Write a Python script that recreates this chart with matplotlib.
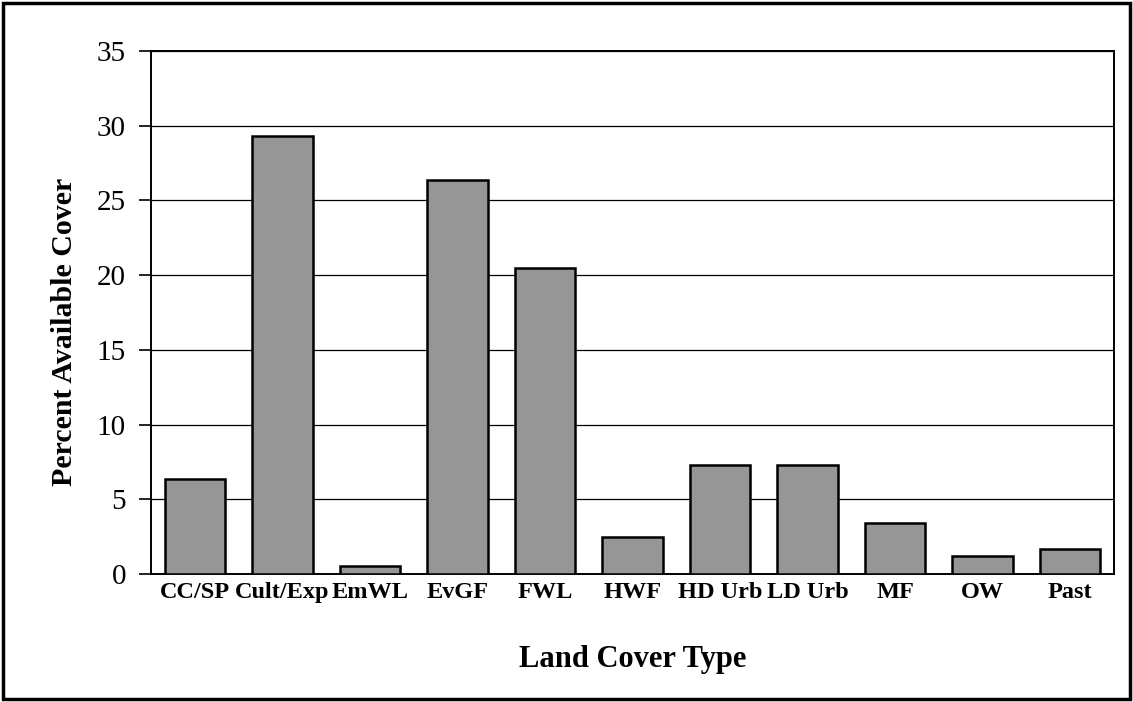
import numpy as np
import matplotlib
matplotlib.use("Agg")
import matplotlib.pyplot as plt
from matplotlib.patches import Rectangle

plt.rcParams['font.family'] = ['Liberation Serif', 'DejaVu Serif']

cover_types = ['CC/SP', 'Cult/Exp', 'EmWL', 'EvGF', 'FWL', 'HWF',
               'HD Urb', 'LD Urb', 'MF', 'OW', 'Past']
percent = [6.35, 29.3, 0.55, 26.4, 20.5, 2.5, 7.3, 7.3, 3.43, 1.22, 1.65]
yticks = [0, 5, 10, 15, 20, 25, 30, 35]

fig = plt.figure(figsize=(11.33, 7.02), dpi=100)
ax = fig.add_axes([151/1133, 1-574/702, (1114-151)/1133, (574-51)/702])

x = np.arange(len(cover_types))
ax.bar(x, percent, width=0.69, color='#969696', edgecolor='black', linewidth=1.8, zorder=3)

ax.set_xlim(-0.5, len(cover_types)-0.5)
ax.set_ylim(0, 35)
ax.set_yticks(yticks)
ax.set_xticks(x)
ax.set_xticklabels(cover_types, fontsize=17.5, fontweight='bold')
ax.tick_params(axis='x', length=0, pad=6)
ax.tick_params(axis='y', length=9, width=1.2, direction='out', pad=9, labelsize=21)
ax.yaxis.grid(True, color='black', linewidth=0.9, zorder=0)
ax.set_axisbelow(True)
for s in ax.spines.values():
    s.set_linewidth(1.4)
    s.set_color('black')

ax.set_ylabel('Percent Available Cover', fontsize=21.5, fontweight='bold', va='center')
ax.yaxis.set_label_coords((65-151)/963, (574-332)/523)
ax.set_xlabel('Land Cover Type', fontsize=22, fontweight='bold', va='center')
ax.xaxis.set_label_coords(0.5, (574-660)/523)

# outer frame
fig.patches.append(Rectangle((3/1133, 3/702), 1127/1133, 696/702, transform=fig.transFigure,
                             fill=False, edgecolor='black', linewidth=2.5))

fig.savefig('out.png', dpi=100)
